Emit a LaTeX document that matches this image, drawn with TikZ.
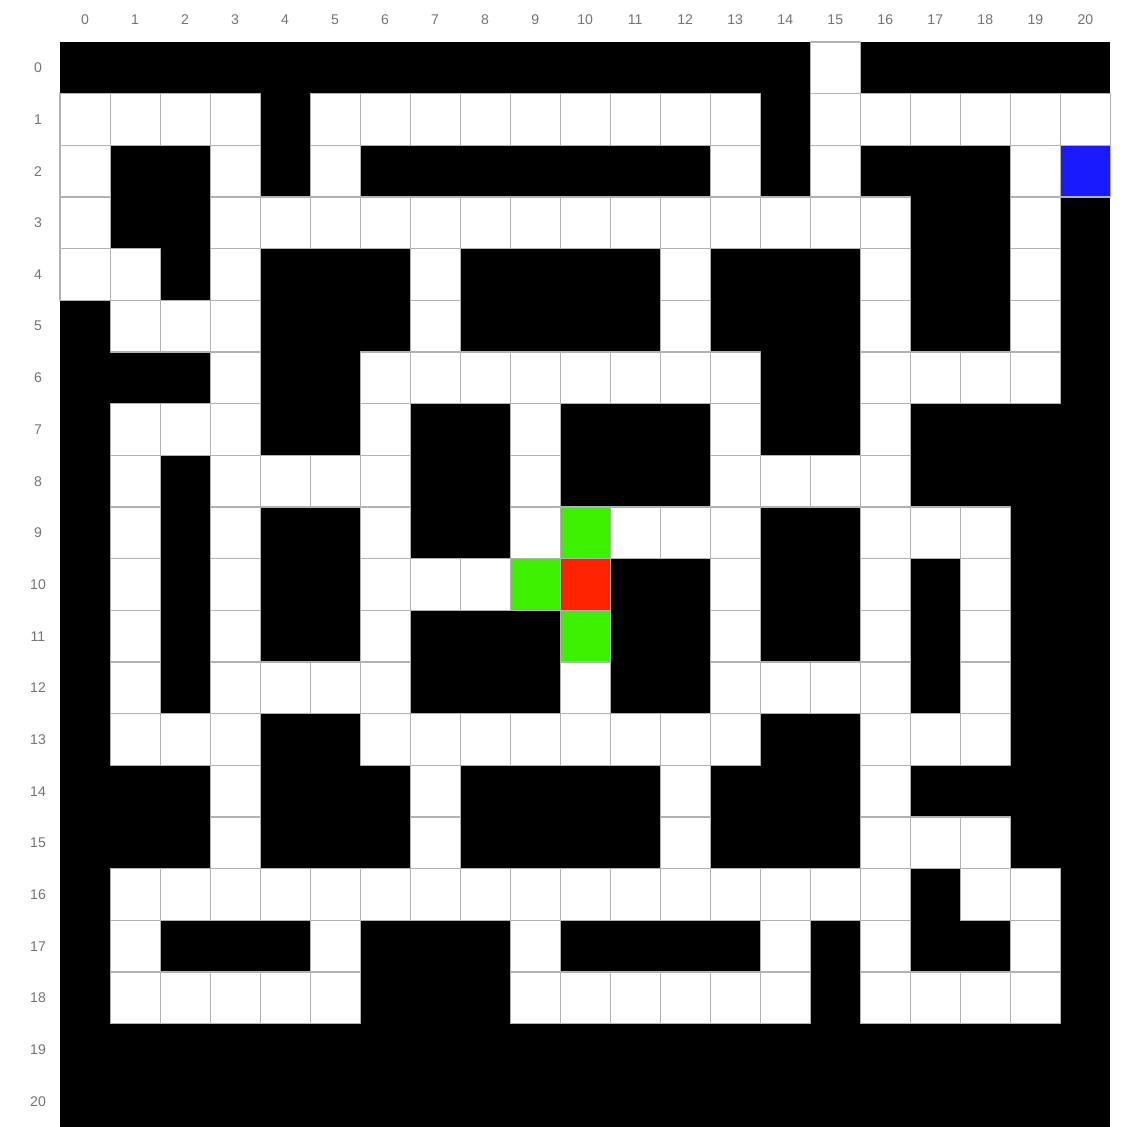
\documentclass[tikz,border=0pt]{standalone}
\usepackage{fontspec}
\setmainfont{Liberation Sans}
\definecolor{goalblue}{RGB}{26,26,255}
\definecolor{pathgreen}{RGB}{60,240,0}
\definecolor{agentred}{RGB}{255,34,0}
\begin{document}
\begin{tikzpicture}[x=1cm, y=-1.033cm, font=\fontsize{8}{9}\selectfont, line join=round,
  cell/.style={draw=black!30, line width=0.6pt}]
\useasboundingbox (-1.2,-0.813) rectangle (21.3,21);
\fill (0,0) rectangle (21,21);
% free cells, row/first/last
\foreach \r/\a/\b in {0/15/15,
  1/0/3, 1/5/13, 1/15/20,
  2/0/0, 2/3/3, 2/5/5, 2/13/13, 2/15/15, 2/19/19,
  3/0/0, 3/3/16, 3/19/19,
  4/0/1, 4/3/3, 4/7/7, 4/12/12, 4/16/16, 4/19/19,
  5/1/3, 5/7/7, 5/12/12, 5/16/16, 5/19/19,
  6/3/3, 6/6/13, 6/16/19,
  7/1/3, 7/6/6, 7/9/9, 7/13/13, 7/16/16,
  8/1/1, 8/3/6, 8/9/9, 8/13/16,
  9/1/1, 9/3/3, 9/6/6, 9/9/9, 9/11/13, 9/16/18,
  10/1/1, 10/3/3, 10/6/8, 10/13/13, 10/16/16, 10/18/18,
  11/1/1, 11/3/3, 11/6/6, 11/13/13, 11/16/16, 11/18/18,
  12/1/1, 12/3/6, 12/10/10, 12/13/16, 12/18/18,
  13/1/3, 13/6/13, 13/16/18,
  14/3/3, 14/7/7, 14/12/12, 14/16/16,
  15/3/3, 15/7/7, 15/12/12, 15/16/18,
  16/1/16, 16/18/19,
  17/1/1, 17/5/5, 17/9/9, 17/14/14, 17/16/16, 17/19/19,
  18/1/5, 18/9/14, 18/16/19}
  \foreach \c in {\a,...,\b}
    \filldraw[cell, fill=white] (\c,\r) rectangle ++(1,1);
% goal, neighbours and agent
\filldraw[cell, fill=goalblue] (20,2) rectangle ++(1,1);
\filldraw[cell, fill=pathgreen] (10,9) rectangle ++(1,1);
\filldraw[cell, fill=pathgreen] (9,10) rectangle ++(1,1);
\filldraw[cell, fill=pathgreen] (10,11) rectangle ++(1,1);
\filldraw[cell, fill=agentred] (10,10) rectangle ++(1,1);
% axis numbers
\foreach \c in {0,...,20}
  \node[text=black!55] (col\c) at (\c+0.5,-0.43) {\c};
\foreach \r in {0,...,20}
  \node[text=black!55] (row\r) at (-0.44,\r+0.5) {\r};
\end{tikzpicture}
\end{document}
